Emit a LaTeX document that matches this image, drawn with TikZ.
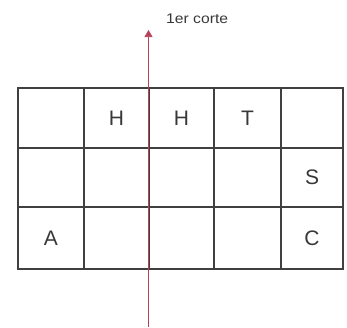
\documentclass[tikz,border=0pt]{standalone}
\usepackage{fontspec}
\setmainfont{Liberation Sans}
\usetikzlibrary{arrows.meta}
\definecolor{gridc}{HTML}{404040}
\definecolor{cutc}{HTML}{B8405A}
\definecolor{txtc}{HTML}{383838}
\tikzset{
  gridline/.style={draw=gridc, line width=1.3pt},
  letter/.style={text=txtc, font=\fontsize{21}{21}\selectfont, inner sep=0pt},
  cutline/.style={draw=cutc, line width=0.7pt},
  cutdots/.style={draw=cutc, line width=1.5pt, dash pattern=on 1pt off 2pt},
}
\begin{document}
\begin{tikzpicture}[x=1pt,y=-1pt]
\useasboundingbox (0,0) rectangle (347,327);
% grid
\draw[gridline] (18,88) rectangle (343,269);
\foreach \x in {84,149,214,281} \draw[gridline] (\x,88) -- (\x,269);
\foreach \y in {148,207} \draw[gridline] (18,\y) -- (343,\y);
% letters
\node[letter] (h1) at (116.5,118) {H};
\node[letter] (h2) at (181.5,118) {H};
\node[letter] (t)  at (247.5,118) {T};
\node[letter] (s)  at (312,177.5) {S};
\node[letter] (a)  at (51,238) {A};
\node[letter] (c)  at (312,238) {C};
% cut line
\coordinate (cbot) at (148.5,327);
\coordinate (ctop) at (148.5,30);
\coordinate (cd1) at (148.5,62);
\coordinate (cd2) at (148.5,86);
\coordinate (cd3) at (148.5,298);
\draw[cutline, -{Triangle[width=8pt,length=7pt]}] (cbot) -- (ctop);
\draw[cutdots] (cd1) -- (cd2);
\draw[cutdots] (cd3) -- (cbot);
\node[text=txtc, font=\fontsize{14}{14}\selectfont, anchor=west, inner sep=0pt, xscale=1.12] (lbl) at (166,19) {1er corte};
\end{tikzpicture}
\end{document}
